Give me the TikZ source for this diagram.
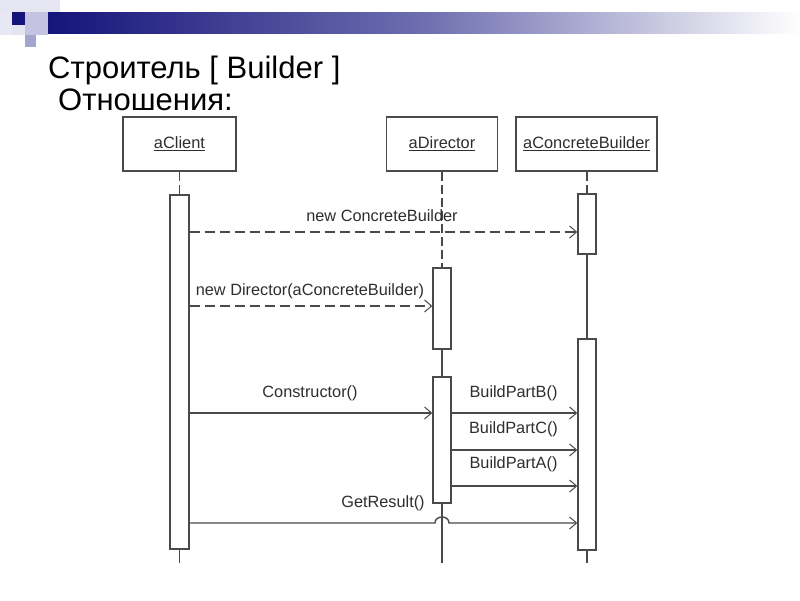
\documentclass[tikz,border=0pt]{standalone}
\usepackage{fontspec}
\setmainfont{Liberation Sans}
\usetikzlibrary{arrows.meta,calc}
\definecolor{linegray}{HTML}{4A4A4A}
\definecolor{textgray}{HTML}{2E2E2E}
\definecolor{navy}{HTML}{14147A}
\definecolor{sqa}{HTML}{E6E6F2}
\definecolor{sqb}{HTML}{E8E8F4}
\definecolor{sqc}{HTML}{E4E4F2}
\definecolor{sqd}{HTML}{C4C4E2}
\definecolor{sqe}{HTML}{A4A4D0}
\definecolor{barmid}{HTML}{6E6EB0}
\begin{document}
\begin{tikzpicture}[x=1pt,y=-1pt,
  obj/.style={draw=linegray, line width=1.6pt, fill=white, minimum height=54pt, inner sep=0pt,
    text=textgray, font=\fontsize{16.4}{19}\selectfont},
  act/.style={draw=linegray, line width=1.4pt, fill=white, minimum width=18pt, inner sep=0pt},
  life/.style={draw=linegray, line width=1.3pt},
  lifedash/.style={life, dash pattern=on 9pt off 4pt},
  msg/.style={draw=linegray, line width=1.4pt, -{Straight Barb[length=7pt,width=12pt,line width=1pt]}},
  ret/.style={msg, dash pattern=on 10pt off 5pt},
  lbl/.style={font=\fontsize{16.3}{19}\selectfont, text=textgray, inner sep=0pt, anchor=base},
  ttl/.style={font=\fontsize{31}{36}\selectfont, inner sep=0pt, anchor=base west}]
\useasboundingbox (0,0) rectangle (800,600);
\fill[white] (0,0) rectangle (800,600);
% header decoration
\fill[sqa] (0,0) rectangle (60,12);
\fill[sqb] (0,12) rectangle (12,35);
\fill[navy] (12,12) rectangle (25,25);
\fill[sqc] (12,25) rectangle (25,35);
\fill[sqd] (25,12) rectangle (48,35);
\fill[sqe] (25,35) rectangle (36,47);
\shade[left color=navy, right color=white, middle color=barmid] (48,12) rectangle (800,33);
% titles
\node[ttl] (title) at (48,78) {Строитель [ Builder ]};
\node[ttl] (sub) at (58,110) {Отношения:};
% objects
\node[obj, minimum width=113pt] (client) at (179.5,144) {\underline{aClient}};
\node[obj, minimum width=111pt] (director) at (442,144) {\underline{aDirector}};
\node[obj, minimum width=141pt] (cbuilder) at (586.5,144) {\underline{aConcreteBuilder}};
% activations
\node[act, minimum width=19pt, minimum height=354pt] (ca) at (179.5,372) {};
\node[act, minimum height=81pt] (da1) at (442,308.5) {};
\node[act, minimum height=126pt] (da2) at (442,440) {};
\node[act, minimum height=60pt] (ba1) at (587,224) {};
\node[act, minimum height=211pt] (ba2) at (587,444.5) {};
% lifeline ends
\coordinate (cend) at (179.5,563);
\coordinate (dend) at (442,563);
\coordinate (bend) at (587,563);
% lifelines
\draw[lifedash] (client.south) -- (ca.north);
\draw[life] (ca.south) -- (cend);
\draw[lifedash] (director.south) -- (da1.north);
\draw[life] (da1.south) -- (da2.north);
\draw[life] (da2.south) -- (dend);
\draw[lifedash] (cbuilder.south -| ba1.north) -- (ba1.north);
\draw[life] (ba1.south) -- (ba2.north);
\draw[life] (ba2.south) -- (bend);
% message levels
\coordinate (y1) at (0,232);
\coordinate (y2) at (0,306);
\coordinate (y3) at (0,413);
\coordinate (y4) at (0,450);
\coordinate (y5) at (0,486);
\coordinate (y6) at (0,523);
% messages
\draw[ret] (ca.east |- y1) -- (ba1.west |- y1);
\draw[ret] (ca.east |- y2) -- (da1.west |- y2);
\draw[msg] (ca.east |- y3) -- (da2.west |- y3);
\draw[msg] (da2.east |- y3) -- (ba2.west |- y3);
\draw[msg] (da2.east |- y4) -- (ba2.west |- y4);
\draw[msg] (da2.east |- y5) -- (ba2.west |- y5);
\draw[msg] (ca.east |- y6) -- ($(dend |- y6)+(-7,0)$)
  .. controls ($(dend |- y6)+(-7,-8)$) and ($(dend |- y6)+(7,-8)$) .. ($(dend |- y6)+(7,0)$)
  -- (ba2.west |- y6);
% labels
\node[lbl] (l1) at (382,221) {new ConcreteBuilder};
\node[lbl] (l2) at (310,295) {new Director(aConcreteBuilder)};
\node[lbl] (l3) at (310,397) {Constructor()};
\node[lbl] (l4) at (513.5,397) {BuildPartB()};
\node[lbl] (l5) at (513.5,433) {BuildPartC()};
\node[lbl] (l6) at (513.5,468) {BuildPartA()};
\node[lbl] (l7) at (383,507) {GetResult()};
\end{tikzpicture}
\end{document}
